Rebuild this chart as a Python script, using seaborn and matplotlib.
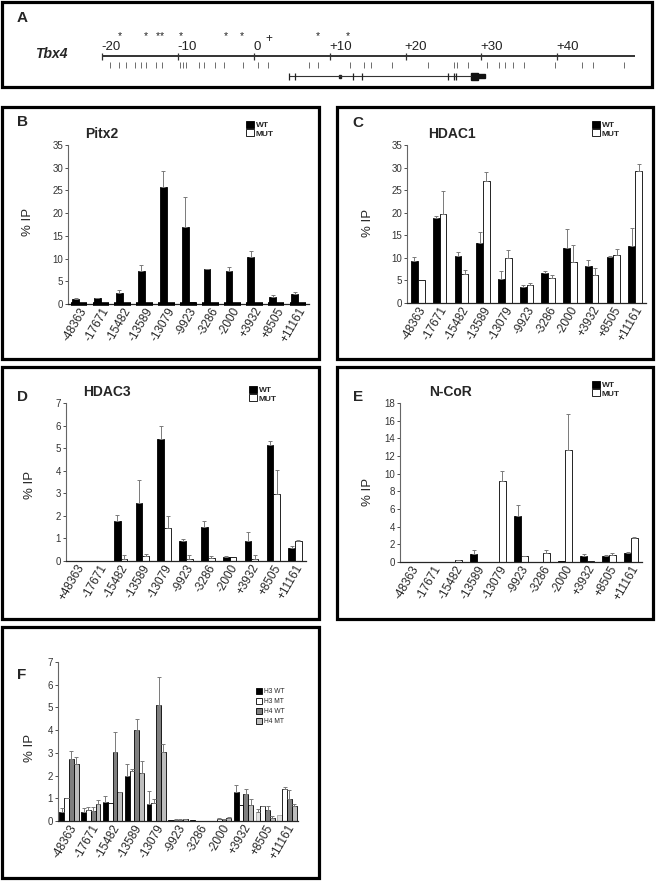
import numpy as np
import pandas as pd
import matplotlib
matplotlib.use("Agg")
import matplotlib.pyplot as plt
import seaborn as sns
from matplotlib.patches import Rectangle

sns.set_style("ticks")
plt.rcParams['font.family'] = ['Liberation Sans', 'DejaVu Sans']

W, H = 656, 882

# ---- data ----
sites = ["-48363", "-17671", "-15482", "-13589", "-13079", "-9923",
         "-3286", "-2000", "+3932", "+8505", "+11161"]
sites_d = ["+48363"] + sites[1:]

# panel A: Tbx4 locus (kb)
map_ticks = [-20, -10, 0, 10, 20, 30, 40]
map_labels = ["-20", "-10", "0", "+10", "+20", "+30", "+40"]
map_end = 50.3
star_kb = [-17.7, -14.3, -12.7, -12.2, -9.6, -3.7, -1.6, 8.4, 12.4]
plus_kb = [2.0]
site_kb = [-19.0, -17.8, -16.9, -15.7, -14.9, -14.3, -12.9, -12.1, -9.7, -9.4,
           -9.0, -7.3, -6.6, -5.1, -3.9, -1.5, 0.5, 1.9, 7.2, 8.4, 12.6, 14.5,
           15.5, 18.2, 23.0, 26.4, 26.8, 28.2, 30.7, 32.3, 33.1, 34.2, 35.6,
           39.7, 43.3, 44.7, 48.8]
gene_start, gene_end = 4.6, 28.6
exon_kb = [4.6, 5.4, 13.1, 14.2, 25.6, 26.4, 26.7]
exon_small = 11.3
utr_big = (28.6, 29.6)
utr_small = (29.6, 30.5)

# B: Pitx2
pitx2_wt = [1.0, 1.3, 2.4, 7.2, 25.8, 17.0, 7.6, 7.3, 10.3, 1.6, 2.2]
pitx2_wt_err = [0.3, 0.1, 0.6, 1.3, 3.5, 6.5, 0.2, 0.8, 1.3, 0.4, 0.5]
pitx2_mut = [0.1, 0.05, 0.05, 0.1, 0.1, 0.35, 0.1, 0.1, 0.1, 0.15, 0.05]
pitx2_mut_err = [0] * 11

# C: HDAC1
hdac1_wt = [9.2, 18.8, 10.5, 13.4, 5.4, 3.6, 6.6, 12.1, 8.1, 10.3, 12.7]
hdac1_wt_err = [0.9, 0.5, 0.8, 2.3, 1.6, 0.4, 0.5, 4.3, 1.4, 0.1, 3.9]
hdac1_mut = [5.0, 19.8, 6.4, 27.0, 9.9, 4.0, 5.6, 9.0, 6.3, 10.6, 29.3]
hdac1_mut_err = [0, 4.9, 0.9, 2.0, 1.8, 0.5, 0.6, 3.8, 1.4, 1.3, 1.6]

# D: HDAC3
hdac3_wt = [0, 0, 1.76, 2.59, 5.40, 0.89, 1.51, 0.19, 0.89, 5.13, 0.59]
hdac3_wt_err = [0, 0, 0.30, 1.02, 0.60, 0.09, 0.28, 0.05, 0.41, 0.20, 0.09]
hdac3_mut = [0, 0, 0.09, 0.21, 1.48, 0.09, 0.15, 0.19, 0.09, 2.99, 0.87]
hdac3_mut_err = [0, 0, 0.19, 0.10, 0.50, 0.19, 0.09, 0, 0.19, 1.05, 0.05]

# E: N-CoR
ncor_wt = [0, 0, 0, 0.95, 0, 5.19, 0, 0.08, 0.64, 0.64, 1.06]
ncor_wt_err = [0, 0, 0, 0.38, 0, 1.25, 0, 0, 0.31, 0.12, 0.08]
ncor_mut = [0, 0, 0.19, 0, 9.17, 0.64, 1.06, 12.65, 0.15, 0.80, 2.69]
ncor_mut_err = [0, 0, 0.08, 0, 1.13, 0.04, 0.27, 4.05, 0, 0.26, 0.11]

# F: histones
h3_wt = [0.41, 0.38, 0.82, 1.98, 0.73, 0.05, 0.03, 0.0, 1.29, 0.41, 0.27]
h3_wt_err = [0.15, 0.18, 0.26, 0.55, 0.59, 0, 0, 0, 0.29, 0.14, 0]
h3_mt = [1.00, 0.47, 0.80, 2.21, 0.78, 0.06, 0.01, 0.08, 0.70, 0.65, 1.40]
h3_mt_err = [0.03, 0.16, 0, 0.10, 0.19, 0.02, 0, 0.04, 0, 0.03, 0.08]
h4_wt = [2.75, 0.45, 3.05, 4.00, 5.10, 0.06, 0.01, 0.07, 1.19, 0.50, 0.95]
h4_wt_err = [0.32, 0.16, 0.87, 0.48, 1.25, 0.02, 0, 0.03, 0.22, 0.17, 0.40]
h4_mt = [2.50, 0.75, 1.26, 2.12, 3.02, 0.08, 0.01, 0.12, 0.72, 0.15, 0.65]
h4_mt_err = [0.30, 0.17, 0.03, 0.52, 0.35, 0.02, 0, 0.06, 0.25, 0.05, 0.08]
# in the source these H3 WT bars are printed faint grey
faint_h3wt = ["+8505", "+11161"]

fig = plt.figure(figsize=(W / 100, H / 100), dpi=100)


def px_ax(x0, y0, x1, y1):
    return fig.add_axes([x0 / W, 1 - y1 / H, (x1 - x0) / W, (y1 - y0) / H])


def px_text(x, y, s, **kw):
    fig.text(x / W, 1 - y / H, s, **kw)


def box(x0, y0, x1, y1):
    fig.add_artist(Rectangle((x0 / W, 1 - y1 / H), (x1 - x0) / W, (y1 - y0) / H,
                             transform=fig.transFigure, fill=False, lw=2.3, ec='black'))


# ---- panel A ----
box(2, 2, 652, 87)
px_per_kb, zero_px = 7.58, 254
axA = px_ax(2, 2, 652, 87)
axA.set_xlim((2 - zero_px) / px_per_kb, (652 - zero_px) / px_per_kb)
axA.set_ylim(85, 0)
axA.axis('off')
axA.hlines(54, map_ticks[0], map_end, color='#333', lw=1.4)
axA.vlines(map_ticks, 50.5, 57.5, color='#333', lw=0.9)
for t, lab in zip(map_ticks, map_labels):
    axA.text(t - 0.1, 48.5, lab, ha='left', va='baseline', fontsize=9.5, color='#222')
for k in star_kb:
    axA.text(k, 37.5, '*', ha='center', va='baseline', fontsize=7.5, color='#222')
for k in plus_kb:
    axA.text(k, 40, '+', ha='center', va='baseline', fontsize=8.5, color='#222')
axA.vlines(site_kb, 60, 66, color='#555', lw=0.6)
axA.hlines(74, gene_start, gene_end, color='#333', lw=0.8)
axA.vlines(exon_kb, 70.5, 77.5, color='#222', lw=0.9)
axA.add_patch(Rectangle((exon_small - 0.15, 72.5), 0.3, 3, color='#222'))
axA.add_patch(Rectangle((utr_big[0], 70.5), utr_big[1] - utr_big[0], 7, color='#111'))
axA.add_patch(Rectangle((utr_small[0], 72.3), utr_small[1] - utr_small[0], 3.4, color='#111'))
px_text(22, 18, 'A', fontsize=11, fontweight='bold', ha='center', va='center')
px_text(51, 54, 'Tbx4', fontsize=10, fontweight='bold', style='italic', ha='center', va='center')


def bar_panel(rect, labels, series, errs, names, colors, ymax, ystep, width,
              leg_xy, leg_size, leg_bold, leg_spacing, rot=60):
    ax = px_ax(*rect)
    n = len(labels)
    df = pd.DataFrame({'site': np.tile(labels, len(names)),
                       'val': np.concatenate([np.asarray(s, float) for s in series]),
                       'grp': np.repeat(names, n)})
    sns.barplot(data=df, x='site', y='val', hue='grp', order=labels, hue_order=names,
                palette=dict(zip(names, colors)), saturation=1, edgecolor='black',
                linewidth=0.6, width=width, errorbar=None, ax=ax)
    for cont, e in zip(ax.containers, errs):
        xs = np.array([b.get_x() + b.get_width() / 2 for b in cont])
        ys = np.array([b.get_height() for b in cont])
        e = np.asarray(e, float)
        m = e > 0
        ax.errorbar(xs[m], ys[m], yerr=[np.zeros(m.sum()), e[m]], fmt='none',
                    ecolor='#7a7a7a', elinewidth=0.7, capsize=1.6, capthick=0.7)
    ax.set_xlim(-0.5, n - 0.5)
    ax.set_ylim(0, ymax)
    ax.set_yticks(np.arange(0, ymax + 0.01, ystep))
    ax.set_xlabel('')
    ax.set_ylabel('')
    sns.despine(ax=ax)
    ax.spines['left'].set_color('#666')
    ax.spines['left'].set_linewidth(0.8)
    ax.spines['bottom'].set_linewidth(0.9)
    ax.tick_params(axis='y', length=2, width=0.6, labelsize=7, pad=1.5, colors='#333')
    ax.tick_params(axis='x', length=0, labelsize=8.5, pad=1)
    ax.set_xticks(range(n))
    ax.set_xticklabels(labels, rotation=rot, ha='right', rotation_mode='anchor')
    handles, lbls = ax.get_legend_handles_labels()
    ax.legend(handles, lbls, loc='upper left',
              bbox_to_anchor=(leg_xy[0] / W, 1 - leg_xy[1] / H),
              bbox_transform=fig.transFigure, frameon=False,
              prop={'size': leg_size, 'weight': 'bold' if leg_bold else 'normal'},
              handlelength=0.9, handleheight=0.9, handletextpad=0.25,
              labelspacing=leg_spacing, borderaxespad=0, borderpad=0)
    return ax


wt_mut = ['WT', 'MUT']
bw = ['black', 'white']

# ---- panel B ----
box(2, 107, 319, 359)
axB = bar_panel((68, 145, 309, 304), sites, [pitx2_wt, pitx2_mut],
                [pitx2_wt_err, pitx2_mut_err], wt_mut, bw, 35, 5, 0.62,
                (246, 121), 6, True, 0.0)
axB.hlines([0] * len(sites), np.arange(len(sites)) - 0.38, np.arange(len(sites)) + 0.38,
           color='black', lw=2.6, clip_on=False, zorder=5)
px_text(22, 122, 'B', fontsize=11, fontweight='bold', ha='center', va='center')
px_text(102, 134, 'Pitx2', fontsize=10, fontweight='bold', ha='center', va='center')
px_text(28, 222, '% IP', fontsize=9.5, rotation=90, ha='center', va='center')

# ---- panel C ----
box(337, 107, 653, 359)
bar_panel((407, 145, 646, 303), sites, [hdac1_wt, hdac1_mut],
          [hdac1_wt_err, hdac1_mut_err], wt_mut, bw, 35, 5, 0.62,
          (592, 121), 6, True, 0.0)
px_text(358, 123, 'C', fontsize=11, fontweight='bold', ha='center', va='center')
px_text(452, 134, 'HDAC1', fontsize=10, fontweight='bold', ha='center', va='center')
px_text(368, 223, '% IP', fontsize=9.5, rotation=90, ha='center', va='center')

# ---- panel D ----
box(2, 367, 319, 619)
bar_panel((66, 403, 306, 561), sites_d, [hdac3_wt, hdac3_mut],
          [hdac3_wt_err, hdac3_mut_err], wt_mut, bw, 7, 1, 0.62,
          (249, 386), 6, True, 0.0)
px_text(22, 397, 'D', fontsize=11, fontweight='bold', ha='center', va='center')
px_text(107, 392, 'HDAC3', fontsize=10, fontweight='bold', ha='center', va='center')
px_text(30, 485, '% IP', fontsize=9.5, rotation=90, ha='center', va='center')

# ---- panel E ----
box(337, 367, 653, 619)
bar_panel((400, 403, 642, 562), sites, [ncor_wt, ncor_mut],
          [ncor_wt_err, ncor_mut_err], wt_mut, bw, 18, 2, 0.62,
          (592, 381), 6, True, 0.0)
px_text(358, 397, 'E', fontsize=11, fontweight='bold', ha='center', va='center')
px_text(450, 392, 'N-CoR', fontsize=10, fontweight='bold', ha='center', va='center')
px_text(368, 492, '% IP', fontsize=9.5, rotation=90, ha='center', va='center')

# ---- panel F ----
box(2, 627, 319, 878)
axF = bar_panel((58, 662, 298, 821), sites, [h3_wt, h3_mt, h4_wt, h4_mt],
                [h3_wt_err, h3_mt_err, h4_wt_err, h4_mt_err],
                ['H3 WT', 'H3 MT', 'H4 WT', 'H4 MT'],
                ['black', 'white', '#7f7f7f', '#bdbdbd'], 7, 1, 0.88,
                (256, 688), 4.8, False, 0.45)
for s in faint_h3wt:
    bar = axF.containers[0][sites.index(s)]
    bar.set_facecolor('#e4e4e4')
    bar.set_edgecolor('#aaaaaa')
px_text(22, 675, 'F', fontsize=11, fontweight='bold', ha='center', va='center')
px_text(30, 748, '% IP', fontsize=9.5, rotation=90, ha='center', va='center')

fig.savefig("out.png", dpi=100)
